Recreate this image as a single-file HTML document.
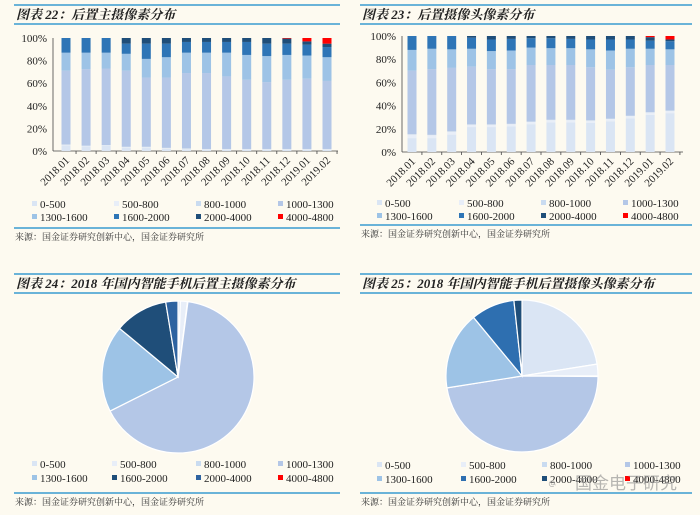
<!DOCTYPE html>
<html><head><meta charset="utf-8">
<style>
html,body{margin:0;padding:0;background:#fdfaf0;}
svg{display:block;font-family:"Liberation Serif","Noto Serif CJK SC",serif;}
.ttl{font-style:italic;font-weight:bold;font-size:13px;fill:#222;}
.tick{font-size:11px;fill:#222;}
.leg{font-size:11px;fill:#222;}
.src{font-size:9px;fill:#333;}
</style></head>
<body>
<svg id="root" width="700" height="515" viewBox="0 0 700 515">
<rect width="700" height="515" fill="#fdfaf0"/>
<g id="layer"></g>
<text x="548" y="487" font-size="14" fill="#999" opacity="0.7">ဇ</text>
<text x="575" y="489" font-size="17" fill="#888" opacity="0.6" style="font-family:'Noto Sans CJK SC',sans-serif">国金电子研究</text>
</svg>
<script>
const months = ["2018.01","2018.02","2018.03","2018.04","2018.05","2018.06","2018.07","2018.08","2018.09","2018.10","2018.11","2018.12","2019.01","2019.02"];
const seriesNames = ["0-500","500-800","800-1000","1000-1300","1300-1600","1600-2000","2000-4000","4000-4800"];
const yTicks = [0,20,40,60,80,100];
// Chart 22 values (%) per series
const main0_500    = [5,4,4.5,3,3,2,1.5,1,1,1,1,1,1,1];
const main500_800  = [0.5,0.5,0.5,0.5,0.5,0.5,0.5,0.5,0.5,0.5,0.5,0.5,0.5,0.5];
const main800_1000 = [0.3,0.3,0.3,0.3,0.3,0.3,0.3,0.3,0.3,0.3,0.3,0.3,0.3,0.3];
const main1000_1300= [65.2,67.7,67.7,67.2,61.2,62.2,66.7,67.2,64.2,61.2,59.2,61.2,62.2,60.2];
const main1300_1600= [16,14.5,14,15,16.5,18,18,18,21,22,23,22,20.5,21];
const main1600_2000= [13,13,13,9,13.5,12,9.5,9.5,9.5,11.5,11,10,9.5,9];
const main2000_4000= [0,0,0,5,5,5,3.5,3.5,3.5,3.5,5,4.5,3,3];
const main4000_4800= [0,0,0,0,0,0,0,0,0,0,0,0.5,3,5];
// Chart 23 values (%)
const all0_500    = [12,12,15,21.5,21.5,22,24,25.5,25.5,25,26.5,29,32,33.5];
const all500_800  = [3,2.5,2.5,2,2,2,2,2,2,2,2,2,2,2];
const all800_1000 = [0.3,0.3,0.3,0.3,0.3,0.3,0.3,0.3,0.3,0.3,0.3,0.3,0.3,0.3];
const all1000_1300= [54.7,56.7,54.7,49.7,47.7,47.2,48.7,47.2,47.2,45.7,42.2,41.7,40.7,39.2];
const all1300_1600= [18,17.5,16,15.5,15.5,16,15,14.5,14.5,15.5,16.5,16,14,13.5];
const all1600_2000= [12,11,11.5,9.5,10,10,8,8.5,8,8.5,9.5,8,7,7];
const all2000_4000= [0,0,0,1.5,3,2.5,2,2,2.5,3,3,3,3,1.5];
const all4000_4800= [0,0,0,0,0,0,0,0,0,0,0,0,1,3];
// Pie values (%)
const pieMain = [0.5,1.5,0.1,65.7,18.5,11.4,2.6,0];
const pieAll  = [22.5,2.5,0.1,47.4,16.5,9.3,1.7,0];

const NS="http://www.w3.org/2000/svg";
const layer=document.getElementById('layer');
function mk(tag,attrs,parent){const e=document.createElementNS(NS,tag);for(const k in attrs)e.setAttribute(k,attrs[k]);(parent||layer).appendChild(e);return e;}
function txt(x,y,s,cls,parent,extra){const t=mk('text',Object.assign({x:x,y:y,class:cls},extra||{}),parent);t.textContent=s;return t;}

const barColors=["#dae5f4","#e8eef8","#c9dbf0","#b4c7e7","#9dc3e6","#2e75b6","#1f4e79","#ff0000"];
const pieColorsMain=["#dae5f4","#e8eef8","#c9dbf0","#b4c7e7","#9dc3e6","#1f4e79","#2e63a0","#ff0000"];
const pieColorsAll=["#dae5f4","#e8eef8","#c9dbf0","#b4c7e7","#9dc3e6","#2e6fb0","#1f4e79","#ff0000"];

function frame(x1,x2,ytop,ybot,title,name){
  const g=mk('g',{});
  
  
  mk('line',{x1:x1,x2:x2,y1:ytop,y2:ytop,stroke:'#3a9bd0','stroke-width':1.6},g);
  mk('line',{x1:x1,x2:x2,y1:ytop+19,y2:ytop+19,stroke:'#3a9bd0','stroke-width':1.6},g);
  const t=txt(x1+2,ytop+14,title,'ttl',g);
  
  
  const f=mk('g',{});
  
  
  mk('line',{x1:x1,x2:x2,y1:ybot,y2:ybot,stroke:'#3a9bd0','stroke-width':1.4},f);
  txt(x1+1,ybot+12,'来源：国金证券研究创新中心，国金证券研究所','src',f);
}

function legend(cols,rows,colors,name){
  const g=mk('g',{});
  
  
  seriesNames.forEach((s,i)=>{
    const x=cols[i%4], y=rows[Math.floor(i/4)];
    const e=mk('g',{},g);
    
    
    mk('rect',{x:x-8,y:y-7,width:5,height:5,fill:colors[i]},e);
    txt(x,y,s,'leg',e);
  });
}

function barChart(o){
  const g=mk('g',{});
  
  
  const ys=v=>o.y0-(o.y0-o.y1)*v/100;
  const step=(o.cN-o.c0)/(months.length-1);
  const xs=i=>o.c0+i*step;
  yTicks.forEach(t=>{
    const l=txt(o.labX,ys(t)+4,t+'%','tick',g,{'text-anchor':'end'});
    
    
  });
  mk('line',{x1:o.ax0,x2:o.ax0,y1:o.y1,y2:o.y0,stroke:'#444','stroke-width':0.8},g);
  mk('line',{x1:o.ax0,x2:o.ax1,y1:o.y0,y2:o.y0,stroke:'#444','stroke-width':0.8},g);
  months.forEach((m,i)=>{
    const x=xs(i);
    let cum=0;
    o.series.forEach((arr,k)=>{
      const v=arr[i]; if(v<=0){return;}
      const r=mk('rect',{x:x-4.5,y:ys(cum+v),width:9,height:ys(cum)-ys(cum+v),fill:barColors[k]},g);
      
      
      cum+=v;
    });
    const tx=x+step/2;
    mk('line',{x1:tx,x2:tx,y1:o.y0,y2:o.y0+3,stroke:'#444','stroke-width':0.8},g);
    const lb=txt(x+4,o.y0+10,m,'tick',g,{'text-anchor':'end',transform:'rotate(-45 '+(x+4)+' '+(o.y0+10)+')'});
    
    
  });
}

function pie(o){
  const g=mk('g',{});
  
  
  const tot=o.values.reduce((a,b)=>a+b,0);
  let a=0;
  o.values.forEach((v,k)=>{
    if(v<=0)return;
    const a0=a/tot*2*Math.PI, a1=(a+v)/tot*2*Math.PI; a+=v;
    const p=(ang)=>[o.cx+o.r*Math.sin(ang),o.cy-o.r*Math.cos(ang)];
    const [x0,y0]=p(a0),[x1,y1]=p(a1);
    const large=(a1-a0)>Math.PI?1:0;
    const s=mk('path',{d:`M${o.cx},${o.cy}L${x0},${y0}A${o.r},${o.r} 0 ${large} 1 ${x1},${y1}Z`,fill:o.colors[k],stroke:'#fff','stroke-width':1.2},g);
    
    
  });
}

frame(14,340,5,228,'图表 22：后置主摄像素分布','chart22');
barChart({name:'chart22-bars',y0:151,y1:38,ax0:53,ax1:338,c0:66,cN:327,labX:47,
  series:[main0_500,main500_800,main800_1000,main1000_1300,main1300_1600,main1600_2000,main2000_4000,main4000_4800]});
legend([40,122,204,286],[208,221],barColors,'chart22');

frame(360,692,5,225,'图表 23：后置摄像头像素分布','chart23');
barChart({name:'chart23-bars',y0:152,y1:36,ax0:402,ax1:683,c0:412,cN:670,labX:396,
  series:[all0_500,all500_800,all800_1000,all1000_1300,all1300_1600,all1600_2000,all2000_4000,all4000_4800]});
legend([385,467,549,631],[207,220],barColors,'chart23');

frame(14,340,274,493,'图表 24：2018 年国内智能手机后置主摄像素分布','chart24');
pie({name:'chart24-pie',cx:178,cy:377,r:76,values:pieMain,colors:pieColorsMain});
legend([40,120,204,286],[468,482],pieColorsMain,'chart24');

frame(360,692,274,493,'图表 25：2018 年国内智能手机后置摄像头像素分布','chart25');
pie({name:'chart25-pie',cx:522,cy:376,r:76,values:pieAll,colors:pieColorsAll});
legend([385,469,550,633],[469,483],pieColorsAll,'chart25');
</script>
</body></html>
